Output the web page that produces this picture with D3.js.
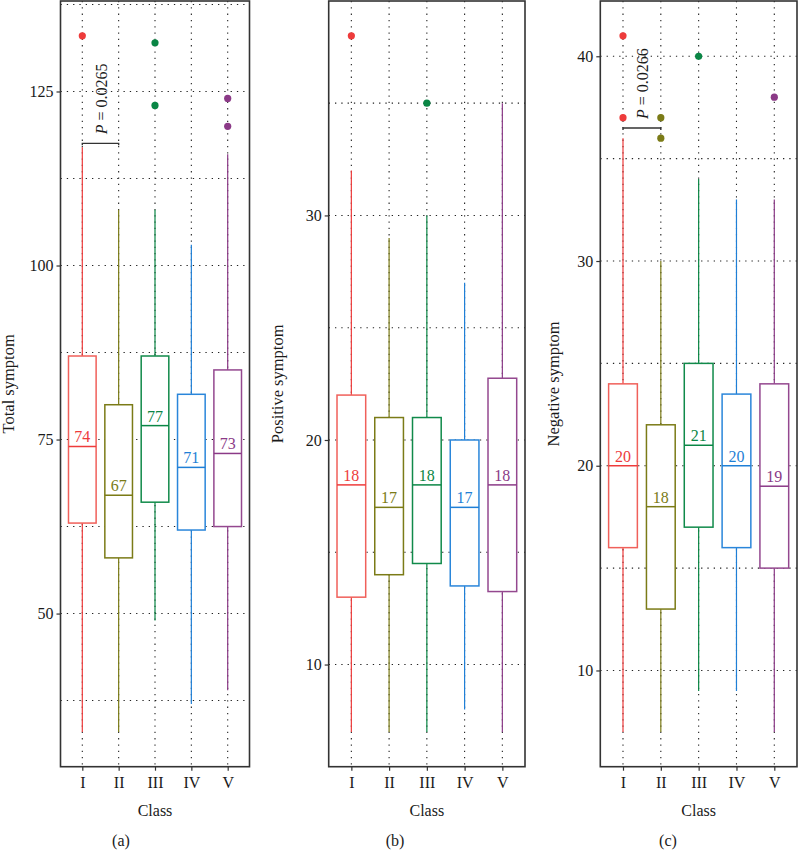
<!DOCTYPE html>
<html>
<head>
<meta charset="utf-8">
<script src="https://cdn.jsdelivr.net/npm/d3@7"></script>
<style>
  html, body { margin: 0; padding: 0; background: #fff; }
  svg { display: block; }
  text { font-family: "Liberation Serif", "Times New Roman", serif; }
</style>
</head>
<body>
<svg id="chart" width="798" height="850"></svg>
<script>
// ---------------- DATA ----------------
const classes = ["I", "II", "III", "IV", "V"];
const colors = ["#EE3B3B", "#7B7B17", "#0A8645", "#1F7FD6", "#8B3A87"];
const boxColors = ["#F0605A", "#7B7B17", "#108A4A", "#2A86DA", "#94488F"];

// Total symptom (a)
const totalLow     = [33, 33, 49, 37, 39];
const totalQ1      = [63, 58, 66, 62, 62.5];
const totalMedian  = [74, 67, 77, 71, 73];
const totalQ3      = [87, 80, 87, 81.5, 85];
const totalHigh    = [117, 108, 108, 103, 116];
const totalOutliers = [[133], [], [132, 123], [], [124, 120]];
const totalMajor = [50, 75, 100, 125];
const totalMinor = [37.5, 62.5, 87.5, 112.5, 137.5];

// Positive symptom (b)
const posLow     = [7, 7, 7, 8, 7];
const posQ1      = [13, 14, 14.5, 13.5, 13.25];
const posMedian  = [18, 17, 18, 17, 18];
const posQ3      = [22, 21, 21, 20, 22.75];
const posHigh    = [32, 29, 30, 27, 35];
const posOutliers = [[38], [], [35], [], []];
const posMajor = [10, 20, 30];
const posMinor = [15, 25, 35];

// Negative symptom (c)
const negLow     = [7, 7, 9, 9, 7];
const negQ1      = [16, 13, 17, 16, 15];
const negMedian  = [20, 18, 21, 20, 19];
const negQ3      = [24, 22, 25, 23.5, 24];
const negHigh    = [36, 30, 34, 33, 33];
const negOutliers = [[41, 37], [37, 36], [40], [], [38]];
const negMajor = [10, 20, 30, 40];
const negMinor = [15, 25, 35];

const panels = [
  { title: "Total symptom", tag: "(a)", low: totalLow, q1: totalQ1, med: totalMedian, q3: totalQ3, high: totalHigh,
    out: totalOutliers, major: totalMajor, minor: totalMinor, pText: "0.0265", pY: 117.55,
    x0: 60.5, x1: 249.5, titleX: 13.5, tagX: 121 },
  { title: "Positive symptom", tag: "(b)", low: posLow, q1: posQ1, med: posMedian, q3: posQ3, high: posHigh,
    out: posOutliers, major: posMajor, minor: posMinor, pText: null,
    x0: 328.7, x1: 525, titleX: 282.5, tagX: 395 },
  { title: "Negative symptom", tag: "(c)", low: negLow, q1: negQ1, med: negMedian, q3: negQ3, high: negHigh,
    out: negOutliers, major: negMajor, minor: negMinor, pText: "0.0266", pY: 36.5,
    x0: 600.3, x1: 797, titleX: 558.5, tagX: 668 }
];

// ---------------- DRAW ----------------
const svg = d3.select("#chart");
const yTop = 1, yBot = 766.7;
const FS = 16;

panels.forEach(p => {
  const allVals = p.low.concat(p.high, ...p.out);
  const lo = d3.min(allVals), hi = d3.max(allVals);
  const pad = (hi - lo) * 0.05;
  const y = d3.scaleLinear().domain([lo - pad, hi + pad]).range([yBot, yTop]);
  const x = d3.scalePoint().domain(classes).range([p.x0, p.x1]).padding(0.6);
  const bw = x.step() * 0.76;

  const g = svg.append("g");

  // grid
  const dash = "1.3,5";
  g.selectAll(".hg").data(p.major.concat(p.minor)).enter().append("line")
    .attr("x1", p.x0).attr("x2", p.x1)
    .attr("y1", d => y(d)).attr("y2", d => y(d))
    .attr("stroke", "#222").attr("stroke-width", 1.1).attr("stroke-dasharray", dash);
  g.selectAll(".vg").data(classes).enter().append("line")
    .attr("x1", d => x(d)).attr("x2", d => x(d))
    .attr("y1", yTop).attr("y2", yBot)
    .attr("stroke", "#222").attr("stroke-width", 1.1).attr("stroke-dasharray", dash);

  // boxes
  classes.forEach((c, i) => {
    g.append("line")
      .attr("x1", x(c)).attr("x2", x(c))
      .attr("y1", y(p.low[i])).attr("y2", y(p.high[i]))
      .attr("stroke", colors[i]).attr("stroke-width", 1.2);
    g.append("rect")
      .attr("x", x(c) - bw / 2).attr("width", bw)
      .attr("y", y(p.q3[i])).attr("height", y(p.q1[i]) - y(p.q3[i]))
      .attr("fill", "#fff").attr("stroke", boxColors[i]).attr("stroke-width", 1.5);
    g.append("line")
      .attr("x1", x(c) - bw / 2).attr("x2", x(c) + bw / 2)
      .attr("y1", y(p.med[i])).attr("y2", y(p.med[i]))
      .attr("stroke", colors[i]).attr("stroke-width", 1.5);
    g.append("text")
      .attr("x", x(c)).attr("y", y(p.med[i]) - 4)
      .attr("text-anchor", "middle").attr("font-size", FS)
      .attr("fill", colors[i]).text(p.med[i]);
    g.selectAll(null).data(p.out[i]).enter().append("circle")
      .attr("cx", x(c)).attr("cy", d => y(d)).attr("r", 3.6)
      .attr("fill", colors[i]);
  });

  // p-value bracket
  if (p.pText) {
    const xa = x("I"), xb = x("II"), yb = y(p.pY);
    g.append("path")
      .attr("d", `M${xa},${yb + 2}V${yb}H${xb}V${yb + 2}`)
      .attr("fill", "none").attr("stroke", "#333").attr("stroke-width", 1.4);
    const tx = (xa + xb) / 2 + 6.5, ty = yb - 9;
    const t = g.append("text")
      .attr("transform", `translate(${tx},${ty}) rotate(-90)`)
      .attr("font-size", FS).attr("fill", "#1a1a1a");
    t.append("tspan").attr("font-style", "italic").text("P");
    t.append("tspan").text(" = " + p.pText);
  }

  // frame
  g.append("rect")
    .attr("x", p.x0).attr("y", yTop).attr("width", p.x1 - p.x0).attr("height", yBot - yTop)
    .attr("fill", "none").attr("stroke", "#333").attr("stroke-width", 1.6);

  // y axis
  const ya = g.append("g").attr("transform", `translate(${p.x0},0)`)
    .call(d3.axisLeft(y).tickValues(p.major).tickSize(4).tickPadding(3).tickFormat(d3.format("d")));
  ya.select(".domain").remove();
  ya.selectAll(".tick line").attr("stroke", "#333").attr("stroke-width", 1.2);
  ya.selectAll(".tick text").attr("font-size", FS).attr("fill", "#1a1a1a")
    .attr("font-family", "Liberation Serif, Times New Roman, serif");

  // x axis
  const xa = g.append("g").attr("transform", `translate(0,${yBot})`)
    .call(d3.axisBottom(x).tickSize(4).tickPadding(6));
  xa.select(".domain").remove();
  xa.selectAll(".tick line").attr("stroke", "#333").attr("stroke-width", 1.2);
  xa.selectAll(".tick text").attr("font-size", FS).attr("fill", "#1a1a1a")
    .attr("font-family", "Liberation Serif, Times New Roman, serif");

  // titles
  g.append("text")
    .attr("transform", `translate(${p.titleX},${(yTop + yBot) / 2}) rotate(-90)`)
    .attr("text-anchor", "middle").attr("font-size", 16.5).attr("fill", "#1a1a1a")
    .text(p.title);
  g.append("text")
    .attr("x", (p.x0 + p.x1) / 2).attr("y", 816)
    .attr("text-anchor", "middle").attr("font-size", FS).attr("fill", "#1a1a1a")
    .text("Class");
  g.append("text")
    .attr("x", p.tagX).attr("y", 846)
    .attr("text-anchor", "middle").attr("font-size", FS).attr("fill", "#1a1a1a")
    .text(p.tag);
});
</script>
</body>
</html>
